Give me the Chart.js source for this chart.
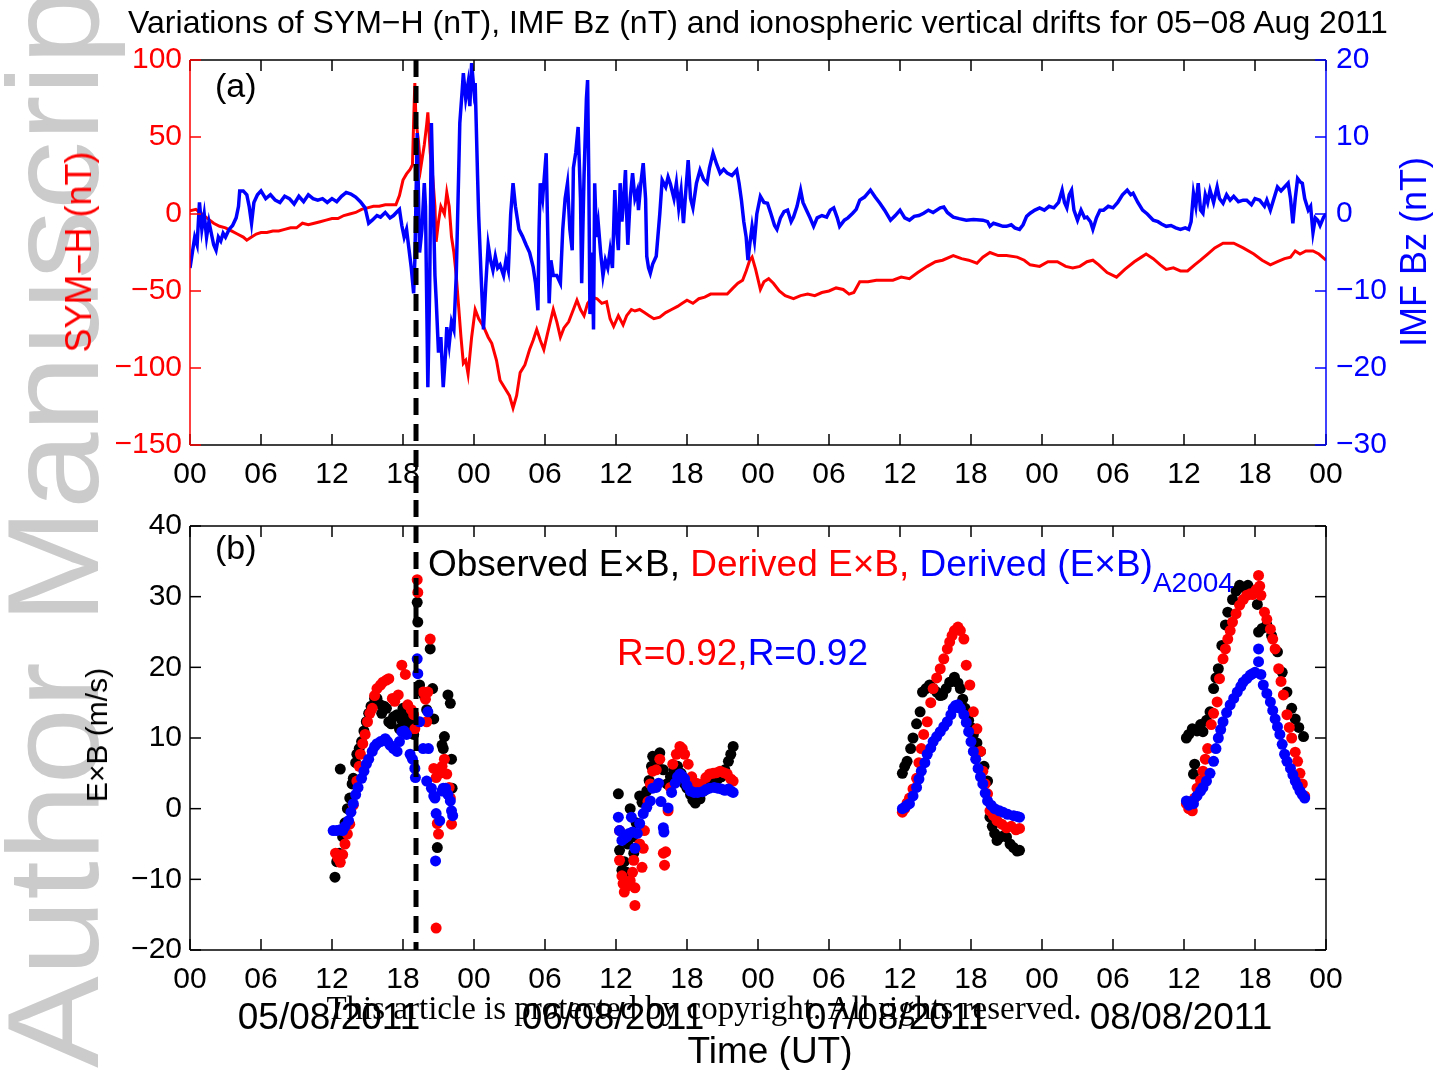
<!DOCTYPE html>
<html>
<head>
<meta charset="utf-8">
<title>SYM-H, IMF Bz and E×B drifts, 05-08 Aug 2011</title>
<script src="https://cdn.jsdelivr.net/npm/chart.js@4.4.1/dist/chart.umd.min.js"></script>
<style>
  html, body { margin: 0; padding: 0; background: #fff; }
  #page { position: relative; width: 1433px; height: 1070px; overflow: hidden;
          font-family: 'Liberation Sans', Arial, sans-serif; }
  canvas { position: absolute; left: 0; z-index: 1; }
  .txt { position: absolute; white-space: nowrap; line-height: 1; z-index: 2;
         transform: translate(-50%, -50%); }
  .rot { transform: translate(-50%, -50%) rotate(-90deg); }
  .left { transform: translate(0, -50%); }
  #wm { position: absolute; left: -12px; top: 1068px; z-index: 0; white-space: nowrap;
        font-size: 130px; line-height: 1; color: #cbcbcb;
        transform-origin: 0 0; transform: rotate(-90deg) scaleX(1.06); }
  #copy { font-family: 'Liberation Serif', 'Times New Roman', serif; font-size: 33px; z-index: 3; }
  sub { font-size: 28px; position: relative; top: 16px; vertical-align: baseline; }
</style>
</head>
<body>
<div id="page">
  <div id="wm">Author Manuscript</div>
  <canvas id="topChart" width="1433" height="500" style="top:0"></canvas>
  <canvas id="bottomChart" width="1433" height="570" style="top:500px"></canvas>

  <div class="txt" style="left:758px; top:22px; font-size:32px;">Variations of SYM&minus;H (nT), IMF Bz (nT) and ionospheric vertical drifts for 05&minus;08 Aug 2011</div>
  <div class="txt left" style="left:215px; top:85px; font-size:34px;">(a)</div>
  <div class="txt left" style="left:215px; top:547px; font-size:34px;">(b)</div>
  <div class="txt rot" style="left:79px; top:252px; font-size:36px; color:#ff0000;">SYM&minus;H (nT)</div>
  <div class="txt rot" style="left:1414px; top:252px; font-size:36px; color:#0000ff;">IMF Bz (nT)</div>
  <div class="txt rot" style="left:97px; top:735px; font-size:30px;">E&times;B (m/s)</div>
  <div class="txt left" style="left:428px; top:563px; font-size:37px;"><span>Observed E&times;B, </span><span style="color:#ff0000">Derived E&times;B, </span><span style="color:#0000ff">Derived (E&times;B)<sub>A2004</sub></span></div>
  <div class="txt left" style="left:617px; top:652px; font-size:37px;"><span style="color:#ff0000">R=0.92,</span><span style="color:#0000ff">R=0.92</span></div>
  <div class="txt" style="left:770px; top:1050px; font-size:37px;">Time (UT)</div>
  <div id="copy" class="txt" style="left:704px; top:1008px;">This article is protected by copyright. All rights reserved.</div>
</div>

<script>
// ---- panel (a): SYM-H (nT), hours from 00 UT 05/08/2011 ----
const symhHour = [
  0, 0.5, 1, 1.5, 2, 2.5, 3, 3.5, 4, 4.5,
  4.8, 5.2, 5.6, 6, 6.5, 7, 7.5, 8, 8.5, 9,
  9.5, 10, 10.5, 11, 11.5, 12, 12.5, 13, 13.5, 14,
  14.5, 15, 15.5, 16, 16.5, 17, 17.4, 17.7, 18, 18.3,
  18.6, 18.8, 18.9, 19, 19.1, 19.3, 19.5, 19.8, 20, 20.1,
  20.3, 20.5, 20.7, 20.8, 21, 21.2, 21.5, 21.7, 21.9, 22.1,
  22.3, 22.5, 22.7, 22.9, 23.1, 23.3, 23.5, 23.8, 24.1, 24.4,
  24.8, 25.2, 25.5, 25.9, 26.2, 26.6, 27, 27.3, 27.6, 27.9,
  28.3, 28.7, 29, 29.3, 29.6, 29.9, 30.2, 30.7, 31, 31.3,
  31.6, 32, 32.4, 32.7, 33, 33.3, 33.6, 34, 34.4, 34.8,
  35.2, 35.5, 35.8, 36.2, 36.6, 36.9, 37.3, 37.6, 38, 38.4,
  38.8, 39.2, 39.7, 40.2, 40.7, 41.2, 41.6, 42, 42.5, 43,
  43.5, 44, 44.5, 45, 45.4, 45.9, 46.3, 46.7, 47, 47.3,
  47.5, 47.8, 48.2, 48.5, 48.9, 49.3, 49.8, 50.3, 51, 51.6,
  52.2, 52.8, 53.4, 54, 54.6, 55.2, 55.7, 56.1, 56.6, 57.3,
  58, 58.7, 59.4, 60.1, 60.8, 61.5, 62.3, 63, 63.6, 64.5,
  65.2, 65.8, 66.5, 67, 67.6, 68.3, 69, 69.9, 70.5, 71,
  71.8, 72.5, 73.3, 74, 74.6, 75.2, 75.8, 76.3, 76.8, 77.5,
  78.3, 79, 79.8, 80.4, 80.8, 81.4, 82, 82.5, 83.1, 83.7,
  84.3, 84.9, 85.4, 86, 86.6, 87.3, 88.2, 89, 89.9, 90.6,
  91.3, 91.9, 92.5, 93, 93.4, 93.8, 94.3, 94.9, 95.4, 96
];
const symhNT = [
  2, 3, 0, -3, -6, -8, -9, -11, -13, -15,
  -17, -15, -13, -12, -12, -11, -11, -10, -9, -9,
  -6, -7, -6, -5, -4, -3, -3, -1, 0, 1,
  3, 4, 5, 5, 6, 6, 6, 12, 22, 26,
  29, 32, 60, 85, 60, 48, 30, 45, 58, 66,
  40, 25, 5, -18, -5, 5, 0, 14, 5, -15,
  -25, -40, -60, -80, -97, -95, -104, -80, -62, -68,
  -73, -80, -84, -95, -108, -113, -118, -126, -118, -103,
  -98, -88, -82, -75, -82, -88, -78, -62, -70, -80,
  -74, -70, -62, -56, -62, -66, -58, -54, -55, -58,
  -57, -68, -73, -66, -72, -66, -62, -63, -62, -64,
  -66, -68, -67, -64, -62, -60, -58, -56, -58, -55,
  -54, -52, -52, -52, -52, -48, -45, -43, -37, -30,
  -28, -36, -49, -44, -42, -45, -50, -53, -55, -53,
  -52, -53, -51, -50, -48, -49, -52, -51, -44, -44,
  -43, -43, -43, -41, -42, -38, -34, -31, -30, -27,
  -29, -30, -32, -28, -25, -27, -27, -28, -30, -33,
  -34, -31, -31, -34, -35, -34, -31, -30, -33, -38,
  -41, -36, -31, -28, -26, -29, -33, -36, -35, -37,
  -37, -33, -30, -26, -22, -19, -19, -22, -26, -30,
  -33, -31, -29, -28, -24, -26, -24, -24, -26, -30
];

// ---- panel (a): IMF Bz (nT) ----
const bzHour = [
  0, 0.2, 0.4, 0.6, 0.8, 1, 1.2, 1.4, 1.6, 1.8,
  2, 2.2, 2.4, 2.6, 2.8, 3, 3.3, 3.6, 3.9, 4.1,
  4.2, 4.5, 4.8, 5, 5.2, 5.4, 5.7, 6, 6.4, 6.8,
  7.2, 7.6, 8, 8.4, 8.8, 9.2, 9.6, 10, 10.4, 10.8,
  11.2, 11.6, 12, 12.4, 12.8, 13.2, 13.6, 14, 14.4, 14.8,
  15.1, 15.4, 15.8, 16.1, 16.5, 16.9, 17.2, 17.5, 17.7, 17.9,
  18.1, 18.3, 18.5, 18.7, 18.9, 19, 19.1, 19.2, 19.3, 19.4,
  19.6, 19.8, 19.9, 20.1, 20.25, 20.4, 20.55, 20.7, 20.8, 21,
  21.2, 21.4, 21.6, 21.7, 21.9, 22.1, 22.3, 22.5, 22.7, 22.8,
  23, 23.1, 23.3, 23.5, 23.65, 23.8, 24, 24.1, 24.3, 24.4,
  24.6, 24.8, 25, 25.2, 25.4, 25.6, 25.8, 26, 26.2, 26.5,
  26.7, 26.9, 27.1, 27.3, 27.5, 27.8, 28.1, 28.4, 28.7, 29,
  29.2, 29.4, 29.5, 29.6, 29.8, 30.1, 30.2, 30.35, 30.5, 30.7,
  31, 31.3, 31.5, 31.7, 31.9, 32.1, 32.3, 32.4, 32.6, 32.8,
  33, 33.1, 33.3, 33.5, 33.6, 33.7, 33.8, 34, 34.1, 34.2,
  34.35, 34.5, 34.7, 34.9, 35.1, 35.3, 35.5, 35.7, 35.9, 36.05,
  36.2, 36.35, 36.5, 36.65, 36.8, 36.9, 37, 37.2, 37.4, 37.6,
  37.8, 37.9, 38.1, 38.3, 38.5, 38.6, 38.75, 38.9, 39.1, 39.4,
  39.7, 39.9, 40.2, 40.4, 40.6, 40.9, 41.1, 41.3, 41.5, 41.7,
  41.9, 42.1, 42.3, 42.5, 42.8, 43.1, 43.4, 43.7, 43.9, 44.2,
  44.5, 44.8, 45.1, 45.4, 45.8, 46.2, 46.4, 46.6, 46.8, 47,
  47.15, 47.3, 47.5, 47.7, 47.9, 48.2, 48.5, 48.8, 49.1, 49.4,
  49.6, 49.9, 50.2, 50.5, 50.8, 51, 51.3, 51.6, 51.8, 52.1,
  52.4, 52.7, 53, 53.4, 53.8, 54.1, 54.4, 54.7, 54.9, 55.3,
  55.6, 56, 56.3, 56.6, 57, 57.5, 57.9, 58.3, 58.7, 59.2,
  59.6, 60, 60.4, 60.8, 61.2, 61.6, 62, 62.4, 62.8, 63.4,
  63.7, 64, 64.5, 65, 65.6, 66.2, 67, 67.4, 67.6, 67.9,
  68.3, 68.7, 69, 69.4, 69.7, 70.1, 70.4, 70.7, 71, 71.4,
  71.8, 72.2, 72.6, 73, 73.4, 73.7, 73.9, 74.1, 74.3, 74.5,
  74.7, 75, 75.3, 75.6, 75.8, 76.1, 76.3, 76.6, 76.9, 77.2,
  77.6, 78, 78.4, 78.8, 79.2, 79.5, 79.7, 80.1, 80.5, 80.9,
  81.4, 81.8, 82.1, 82.5, 82.9, 83.3, 83.7, 84.1, 84.4, 84.6,
  84.8, 85, 85.2, 85.4, 85.6, 85.8, 86, 86.2, 86.5, 86.8,
  87, 87.3, 87.6, 87.9, 88.2, 88.6, 89, 89.3, 89.7, 90,
  90.4, 90.8, 91, 91.3, 91.6, 91.9, 92.2, 92.5, 92.8, 93,
  93.2, 93.4, 93.6, 93.8, 94, 94.2, 94.5, 94.7, 94.9, 95.1,
  95.3, 95.5, 95.8, 96
];
const bzNT = [
  -7, -5, -3, -4, 1.5, -2, 0, -3, -1, -2.5,
  -4, -4.7, -3, -3.5, -2.5, -3, -2, -1.5, -0.5, 1,
  3, 3, 2.5, 1, -1.2, 1.5, 2.5, 3, 2, 2.5,
  1.8, 1.5, 2.3, 2, 1.3, 2.3, 1.6, 2.5, 2, 1.8,
  2, 1.5, 2, 1.6, 2.3, 2.8, 2.6, 2.2, 1.6, 0.8,
  -1.2, -0.8, -0.2, -0.4, 0.2, -0.5, -0.2, 0.3, 0.6, -1.5,
  -3, -2, -4.5, -7, -10.3, -6, 2, 10.5, 3, -5,
  -2, 4, 1, -22.5, -10, 11.8, 2, -8, -11, -18,
  -16, -22.5, -18, -14.7, -17, -14, -15, -8, 5, 11.8,
  16, 18.3, 15, 17, 14, 19.6, 16, 17, 5, -0.4,
  -8, -15, -9, -4, -6, -7.3, -5.5, -7, -6.6, -8,
  -6, -7.3, 0, 4, 1, -2, -2.9, -4, -5, -6.9,
  -9, -12.5, -2, 4, 2, 7.9, 0, -11.6, -6, -8,
  -8, -9, -2, 2, 4, -2, -4.7, 6, 8, 11.3,
  2, -9, 5, 15, 17.4, 5, -13, -5, -15, 4,
  -3, -1.2, -5, -8, -6, -7, -4.7, -7, 3.1, -2,
  -4.7, 4, -1, 2, 5.7, 0, -4, 2, 5.3, 2,
  3, 0.5, 4, 6.6, 2, -5.5, -7, -7.7, -6.5, -5.5,
  0, 4.4, 3.5, 4.8, 3.9, 2, 4, 0.8, 3, -1.2,
  3, 7, 2, 0.8, 4, 5.7, 4.5, 4, 6, 7.9,
  6.5, 5.3, 5.8, 5.3, 5, 5.7, 4, 1.8, -1, -3,
  -6, -4, -1.6, -3.5, 0, 2.3, 1.5, 1.4, 0, -1.5,
  -2, -0.5, 0.3, 0.5, -1, -0.4, 1, 3.1, 1.5, 0.5,
  -0.5, -1.6, -0.5, -0.2, -0.4, 0.5, 0.8, -0.5, -1.6, -0.8,
  -0.5, 0.1, 0.6, 1.8, 2.2, 3.1, 2.2, 1.4, 0.5, -0.8,
  -0.2, 0.5, -0.5, -0.8, -0.3, -0.2, 0.1, 0.5, 0.2, 0.8,
  0.9, 0.2, -0.4, -0.6, -0.8, -0.7, -0.8, -1, -1.6, -1.2,
  -1.4, -1.6, -1.6, -1.4, -1.8, -2, -1.4, -0.3, 0.1, 0.5,
  0.8, 0.5, 1, 0.8, 1.5, 3.1, 1.5, 0.8, 2.5, 3.1,
  0.5, -0.8, 0.5, -0.5, -0.4, -1, -2, -0.5, 0.5, 0.5,
  1, 0.8, 1.5, 2.5, 3.1, 2.5, 2.7, 1.5, 0.5, 0,
  -0.8, -1, -1.3, -1.6, -1.5, -1.8, -2, -1.8, -2, -1,
  2.7, 1, 4, 0.5, 0.1, 2.5, 1.5, 3.1, 1.5, 3.5,
  2, 1.4, 2.5, 1.8, 2.3, 1.6, 1.8, 1.8, 1.2, 2,
  1.8, 1, 1.8, 0.5, 2, 3.5, 3, 3.5, 4, 2,
  -1.2, 2, 4.6, 4.2, 4, 2, 0.5, 1, -2.4, -0.5,
  -0.8, -1.5, -0.4, 0
];

// ---- panel (b): vertical E×B drift (m/s) ----
const obsHour = [
  12.25, 12.4, 12.6, 12.7, 12.9, 13.1, 13.3, 13.5, 13.7, 13.8,
  14, 14.1, 14.3, 14.5, 14.7, 14.9, 15.1, 15.3, 15.6, 15.8,
  16, 16.2, 16.4, 16.6, 16.8, 17, 17.2, 17.5, 17.7, 17.9,
  18, 18.2, 18.4, 18.6, 18.8, 18.9, 19.2, 19.25, 19.4, 19.6,
  19.8, 20, 20.3, 20.5, 20.6, 20.9, 21.3, 21.4, 21.5, 21.8,
  22, 22.1, 22.15,
  36.2, 36.3, 36.5, 36.7, 36.9, 37, 37.2, 37.4, 37.5, 37.7,
  38, 38.2, 38.4, 38.6, 38.8, 39, 39.1, 39.3, 39.5, 39.7,
  40, 40.3, 40.6, 40.9, 41.2, 41.5, 41.8, 42, 42.3, 42.5,
  42.7, 43.1, 43.4, 43.7, 43.9, 44.2, 44.6, 44.9, 45.2, 45.5,
  45.7, 45.9,
  60.2, 60.4, 60.6, 60.9, 61.1, 61.4, 61.7, 61.9, 62.2, 62.5,
  62.8, 63.1, 63.4, 63.6, 63.9, 64.2, 64.4, 64.6, 64.9, 65.1,
  65.3, 65.5, 65.8, 66, 66.2, 66.5, 66.8, 67.1, 67.4, 67.6,
  67.8, 68, 68.2, 68.5, 68.8, 69, 69.3, 69.6, 69.9, 70.1,
  84.2, 84.4, 84.7, 84.8, 84.9, 85.1, 85.4, 85.6, 85.9, 86.2,
  86.5, 86.7, 86.9, 87.2, 87.5, 87.7, 88.1, 88.4, 88.7, 89,
  89.4, 89.8, 90.2, 90.3, 90.6, 91, 91.4, 91.9, 92.3, 92.7,
  93.1, 93.4, 93.7, 94.1
];
const obsDrift = [
  -9.7, -7.5, -6.3, 5.6, -4, -2, 0, 1.5, 3.5, 4.3,
  6.5, 7.7, 8.5, 9.5, 11, 12.3, 13.5, 14.5, 15.6, 15.6,
  14.8, 13.5, 14.5, 14.2, 12.3, 12, 13, 13.3, 11.3, 12.5,
  14.2, 13, 12, 12.3, 11, 10.5, 29.2, 26.4, 17.5, 16.5,
  16, 14, 22.6, 17, 12.7, -5.5, 9, 8.5, 10.2, 16.1,
  14.9, 7, 2.9,
  2.1, -5.9, -8.7, -7.5, -9, -5, 0, -4, -6.3, -2,
  1.8, 0.9, 1.5, 2.5, 4, 6, 7.4, 6, 6.5, 7.9,
  5.5, 3.5, 4.5, 5.5, 6, 5, 3.5, 2.9, 2, 1.2,
  0.8, 1.4, 2.5, 3.5, 3.9, 4.5, 4.2, 4.5, 5.5, 6.7,
  7.7, 8.8,
  5, 6, 6.7, 8.5, 10, 12, 13.7, 16.5, 17, 17.5,
  17, 16.5, 16, 16.1, 17, 17.9, 18, 18.6, 17.8, 17,
  15.5, 14.2, 12.5, 11.5, 10.5, 9.3, 8.1, 6, 3.9, -1.2,
  -2.5, -3.5, -4.5, -4, -3.8, -4, -5, -5.5, -6, -5.9,
  10, 10.5, 11.3, 4.9, 6.3, 11, 11.9, 10.9, 12.5, 13.7,
  17, 18.5, 19.8, 23.1, 26, 27.8, 29.6, 30.8, 31.6, 31.3,
  31.6, 30.5, 28.9, 25, 25.5, 26, 24.5, 22.2, 19.3, 16.5,
  14.2, 12.7, 11.5, 10.2
];

const derHour = [
  12.3, 12.5, 12.7, 12.9, 13.1, 13.3, 13.5, 13.8, 14.1, 14.3,
  14.4, 14.6, 14.8, 15, 15.2, 15.4, 15.6, 15.8, 16.1, 16.3,
  16.6, 16.8, 17.1, 17.3, 17.6, 17.9, 18.2, 18.4, 18.7, 18.9,
  19, 19.2, 19.25, 19.7, 19.9, 20, 20.1, 20.3, 20.6, 20.8,
  20.8, 20.9, 21, 21.1, 21.3, 21.5, 21.7, 21.9, 22, 22.1,
  36.3, 36.3, 36.5, 36.6, 36.7, 36.9, 37.2, 37.4, 37.6, 37.6,
  37.5, 38, 38.2, 38.3, 38.4, 38.7, 38.9, 39.1, 39.4, 39.7,
  40, 40.1, 40.2, 40.4, 40.6, 40.8, 41.1, 41.4, 41.6, 41.8,
  42.1, 42.4, 42.8, 43.2, 43.6, 43.9, 44.2, 44.5, 44.8, 45.1,
  45.4, 45.7, 45.9,
  60.2, 60.4, 60.6, 60.8, 61.1, 61.4, 61.6, 61.8, 62, 62.3,
  62.6, 62.8, 63.1, 63.4, 63.7, 64, 64.2, 64.4, 64.6, 64.9,
  65.1, 65.4, 65.6, 65.9, 66.2, 66.5, 66.8, 67, 67.2, 67.4,
  67.6, 67.9, 68.2, 68.6, 69, 69.4, 69.8, 70.1,
  84.2, 84.4, 84.7, 84.9, 85.1, 85.4, 85.6, 85.8, 86, 86.3,
  86.5, 86.8, 87, 87.3, 87.5, 87.7, 87.9, 88.1, 88.4, 88.7,
  89, 89.3, 89.6, 89.8, 90.1, 90.3, 90.4, 90.5, 90.8, 91,
  91.3, 91.5, 91.7, 92, 92.2, 92.4, 92.7, 92.9, 93.1, 93.4,
  93.6, 93.8, 94, 94.2
];
const derDrift = [
  -6.3, -7, -7.6, -6.5, -5, -3.6, -2.2, 0.5, 3.9, 6,
  7.7, 9.2, 10.5, 12.3, 13.5, 14.2, 16, 17, 17.5, 17.9,
  18.2, 18.4, 15.6, 15.2, 16.1, 20.3, 19, 14.7, 14, 13.3,
  11.3, 32.4, 30.6, 16.5, 15.5, 12.3, 16.5, 24, 5.7, 4.4,
  -16.9, -2.1, -3.6, 5, 6, 7, 4.9, 3, 1.5, -2.2,
  -3.1, -7.3, -9.5, -10.6, -11.8, -11, -10.2, -9, -11.2, -13.7,
  -7.3, -5, -8.3, -5.6, -3.1, 1, 3.5, 5.3, 5.5, 7,
  -6.3, -8, -6.1, -0.3, 3, 6.3, 7.7, 8.8, 8.5, 7.7,
  6.3, 4.5, 3.6, 3.5, 4.4, 4.9, 5, 5.1, 5.3, 5.1,
  4.9, 4.2, 3.9,
  -0.5, 0, 0.8, 1.5, 2.8, 4.3, 6.5, 8.5, 10.5, 12.3,
  15, 17, 18.5, 19.8, 21.2, 22.6, 23.6, 24.5, 25.2, 25.7,
  25.2, 24, 20.3, 17.5, 13.7, 11.3, 8.1, 5.3, 3.5, 2.1,
  -0.3, -1, -1.7, -2.2, -2.7, -2.5, -3, -2.8,
  0.7, 0, -0.3, 1.5, 2.9, 4, 5.3, 7, 8.5, 11.9,
  13.5, 15.1, 18.4, 21.2, 22.6, 24, 25.2, 26.4, 27.6, 28.8,
  29.6, 30.2, 30.4, 30.3, 31, 33, 31.5, 30.2, 27.8, 26.8,
  25.4, 24, 22.6, 19.8, 18, 16.1, 13.3, 11.5, 10, 8,
  6.7, 5, 3.5, 1.8
];

const a04Hour = [
  12.1, 12.4, 12.7, 12.9, 13.1, 13.4, 13.6, 13.8, 14, 14.2,
  14.5, 14.7, 14.9, 15.1, 15.4, 15.6, 15.8, 16.1, 16.5, 16.7,
  16.9, 17.2, 17.5, 17.7, 17.9, 18.1, 18.3, 18.6, 18.8, 19,
  19.05, 19.2, 19.25, 19.4, 19.7, 20, 20.1, 20.15, 20.4, 20.6,
  20.7, 20.8, 20.75, 21.1, 21.3, 21.4, 21.6, 21.8, 22, 22.1,
  22.2,
  36.2, 36.3, 36.5, 36.7, 36.9, 37.1, 37.3, 37.4, 37.6, 37.8,
  38, 38.3, 38.6, 38.9, 39.1, 39.4, 39.6, 39.8, 40, 40.05,
  40.4, 40.7, 41, 41.2, 41.4, 41.6, 41.8, 42, 42.3, 42.6,
  42.9, 43.3, 43.6, 43.9, 44.3, 44.6, 44.9, 45.2, 45.5, 45.7,
  45.9,
  60.2, 60.4, 60.6, 60.8, 61.1, 61.4, 61.6, 61.8, 62.1, 62.3,
  62.6, 62.8, 63.1, 63.4, 63.7, 64, 64.3, 64.5, 64.7, 64.9,
  65.1, 65.4, 65.6, 65.8, 66, 66.2, 66.4, 66.6, 66.8, 67,
  67.2, 67.4, 67.7, 68, 68.4, 68.7, 69.1, 69.6, 69.9, 70.1,
  84.2, 84.4, 84.6, 84.8, 85.1, 85.4, 85.6, 85.9, 86.2, 86.5,
  86.7, 86.9, 87.1, 87.3, 87.6, 87.9, 88.2, 88.5, 88.8, 89,
  89.3, 89.6, 89.8, 90, 90.3, 90.3, 90.5, 90.7, 91, 91.3,
  91.5, 91.7, 91.9, 92.1, 92.3, 92.5, 92.7, 93, 93.2, 93.4,
  93.6, 93.8, 94, 94.2
];
const a04Drift = [
  -3.1, -3.1, -3, -3.1, -2.5, -1.7, -0.5, 0.7, 2, 3,
  4.3, 5.3, 6.3, 7, 8.1, 8.8, 9.2, 9.5, 9.9, 9.5,
  9, 8.5, 8.1, 9.5, 10.9, 11, 10.5, 7.7, 7, 5.7,
  4.4, 21.2, 19.1, 12.3, 8.5, 3.9, 13.7, 8.5, 2.9, 1.8,
  1.5, -0.7, -7.4, -1.7, 2.5, 2.9, 2.9, 2, 1.1, -0.3,
  -1,
  -1.2, -3.1, -4.5, -4.2, -4, -3.5, -1.2, -3.3, -5.6, -3.5,
  -2.1, -0.7, 0.2, 1.1, 2.9, 3, 3.6, 1, -2.7, -3.3,
  0.1, 2.3, 3.6, 4.5, 4.9, 4.6, 4.2, 3.3, 2.5, 2.3,
  2.3, 2.4, 2.7, 2.9, 3, 2.9, 2.8, 2.6, 2.8, 2.5,
  2.3,
  0, 0.2, 0.5, 0.7, 1.8, 3, 4.2, 5.3, 6.5, 7.7,
  8.6, 9.5, 10.2, 10.9, 11.6, 12.3, 13.3, 14.2, 14.6, 14.7,
  14.2, 13.3, 12.2, 10.9, 9.5, 8.1, 7, 5.7, 4.5, 3.5,
  2.2, 1.1, 0.5, 0, -0.3, -0.5, -0.8, -1, -1.1, -1.2,
  1.1, 0.5, 1, 0.7, 1.8, 2.5, 3, 3.9, 5, 6.7,
  8.5, 10, 11.2, 12.3, 13.6, 14.7, 15.6, 16.5, 17.3, 17.9,
  18.4, 18.9, 19.1, 19.3, 22.6, 20.8, 19, 17.5, 16.3, 15.1,
  13.9, 12.7, 11.6, 10.5, 9.1, 7.7, 6.7, 5.7, 4.8, 3.9,
  3.2, 2.5, 2, 1.5
];

const stormOnsetHour = 19.1;           // dashed line (SSC)
const dayLabels = ['05/08/2011', '06/08/2011', '07/08/2011', '08/08/2011'];
const dayLabelHours = [12, 36, 60, 84];

const RED = '#ff0000', BLUE = '#0000ff', BLACK = '#000000';
const FONT = "'Liberation Sans', Arial, sans-serif";
Chart.defaults.font.family = FONT;

function toXY(xs, ys) {
  return xs.map((x, i) => ({ x: x, y: ys[i] }));
}
function hhLabel(v) {
  return String(v % 24).padStart(2, '0');
}
function minusSign(v) {
  return String(v).replace('-', '\u2212');
}
function strokeLine(ctx, x1, y1, x2, y2) {
  ctx.beginPath();
  ctx.moveTo(x1, y1);
  ctx.lineTo(x2, y2);
  ctx.stroke();
}

// matlab style box: inward ticks on all sides + dashed onset line
const matlabBox = {
  id: 'matlabBox',
  afterDraw(chart, args, o) {
    const { ctx, chartArea: a, scales } = chart;
    const tl = 11;
    const x = scales.x;
    ctx.save();
    ctx.lineWidth = 1.5;
    ctx.strokeStyle = BLACK;
    x.ticks.forEach(t => {
      const px = x.getPixelForValue(t.value);
      strokeLine(ctx, px, a.top, px, a.top + tl);
      strokeLine(ctx, px, a.bottom, px, a.bottom - tl);
    });
    strokeLine(ctx, a.left, a.top, a.right, a.top);
    strokeLine(ctx, a.left, a.bottom, a.right, a.bottom);

    const yl = scales[o.left];
    ctx.strokeStyle = o.leftColor;
    strokeLine(ctx, a.left, a.top, a.left, a.bottom);
    yl.ticks.forEach(t => {
      const py = yl.getPixelForValue(t.value);
      strokeLine(ctx, a.left, py, a.left + tl, py);
      if (!o.right) strokeLine(ctx, a.right, py, a.right - tl, py);
    });
    ctx.strokeStyle = o.rightColor;
    strokeLine(ctx, a.right, a.top, a.right, a.bottom);
    if (o.right) {
      const yr = scales[o.right];
      yr.ticks.forEach(t => {
        const py = yr.getPixelForValue(t.value);
        strokeLine(ctx, a.right, py, a.right - tl, py);
      });
    }

    const sx = x.getPixelForValue(stormOnsetHour);
    ctx.strokeStyle = BLACK;
    ctx.lineWidth = 5;
    ctx.setLineDash([17, 9]);
    strokeLine(ctx, sx, o.dashTop === 'area' ? a.top : 0,
                    sx, o.dashBottom === 'area' ? a.bottom : chart.height);
    ctx.restore();
  }
};

const noGrid = { display: false, drawTicks: false };

function xAxis(height, pad) {
  return {
    type: 'linear', min: 0, max: 96,
    grid: noGrid, border: { display: false },
    afterFit(s) { s.height = height; },
    ticks: { stepSize: 6, autoSkip: false, maxRotation: 0, padding: pad,
             color: BLACK, font: { size: 30 }, callback: hhLabel }
  };
}

const topChart = new Chart(document.getElementById('topChart'), {
  type: 'line',
  data: {
    datasets: [
      { label: 'IMF Bz', data: toXY(bzHour, bzNT), yAxisID: 'yBz',
        borderColor: BLUE, borderWidth: 3.5, pointRadius: 0, tension: 0 },
      { label: 'SYM-H', data: toXY(symhHour, symhNT), yAxisID: 'ySym',
        borderColor: RED, borderWidth: 3, pointRadius: 0, tension: 0 }
    ]
  },
  options: {
    responsive: false, animation: false, devicePixelRatio: 1,
    layout: { padding: { top: 60, left: 0, right: 0, bottom: 0 } },
    plugins: {
      legend: { display: false }, tooltip: { enabled: false },
      matlabBox: { left: 'ySym', right: 'yBz', leftColor: RED, rightColor: BLUE,
                   dashTop: 'area', dashBottom: 'canvas' }
    },
    scales: {
      x: xAxis(55, 12),
      ySym: {
        position: 'left', min: -150, max: 100,
        grid: noGrid, border: { display: false },
        afterFit(s) { s.width = 190; },
        ticks: { stepSize: 50, padding: 8, color: RED, font: { size: 30 }, callback: minusSign }
      },
      yBz: {
        position: 'right', min: -30, max: 20,
        grid: noGrid, border: { display: false },
        afterFit(s) { s.width = 107; },
        ticks: { stepSize: 10, padding: 10, color: BLUE, font: { size: 30 }, callback: minusSign }
      }
    }
  },
  plugins: [matlabBox]
});

const bottomChart = new Chart(document.getElementById('bottomChart'), {
  type: 'scatter',
  data: {
    datasets: [
      { label: 'Derived (E×B) A2004', data: toXY(a04Hour, a04Drift),
        backgroundColor: BLUE, borderWidth: 0, pointRadius: 5.5 },
      { label: 'Derived E×B', data: toXY(derHour, derDrift),
        backgroundColor: RED, borderWidth: 0, pointRadius: 5.5 },
      { label: 'Observed E×B', data: toXY(obsHour, obsDrift),
        backgroundColor: BLACK, borderWidth: 0, pointRadius: 5.5 }
    ]
  },
  options: {
    responsive: false, animation: false, devicePixelRatio: 1,
    layout: { padding: { top: 23, left: 0, right: 107, bottom: 0 } },
    plugins: {
      legend: { display: false }, tooltip: { enabled: false },
      matlabBox: { left: 'y', right: null, leftColor: BLACK, rightColor: BLACK,
                   dashTop: 'canvas', dashBottom: 'area' }
    },
    scales: {
      x: xAxis(120, 12),
      y: {
        position: 'left', min: -20, max: 40,
        grid: noGrid, border: { display: false },
        afterFit(s) { s.width = 190; },
        ticks: { stepSize: 10, padding: 8, color: BLACK, font: { size: 30 }, callback: minusSign }
      }
    }
  },
  plugins: [matlabBox]
});

// date labels under the 12 UT tick of each day
const page = document.getElementById('page');
dayLabels.forEach((d, i) => {
  const el = document.createElement('div');
  el.className = 'txt';
  el.textContent = d;
  el.style.left = (bottomChart.scales.x.getPixelForValue(dayLabelHours[i]) - 3) + 'px';
  el.style.top = '1016px';
  el.style.fontSize = '37px';
  page.appendChild(el);
});
</script>
</body>
</html>
